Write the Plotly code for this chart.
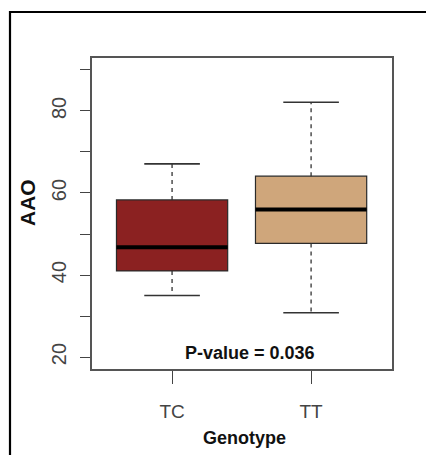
import plotly.graph_objects as go

# ---- data ----
genotypes = ["TC", "TT"]
positions = [1, 2]
lower_whisker = [35.0, 30.8]
q1 = [41.0, 47.7]
median = [46.8, 56.0]
q3 = [58.3, 64.1]
upper_whisker = [67.1, 82.1]
box_colors = ["#8B2121", "#CFA67B"]
y_tick_vals = [20, 30, 40, 50, 60, 70, 80, 90]
y_tick_text = ["20", "", "40", "", "60", "", "80", ""]
p_value_text = "P-value = 0.036"

BOX_W = 0.8
CAP_HALF = 0.2

REGULAR = "Liberation Sans, Arial, sans-serif"

fig = go.Figure()

for i, g in enumerate(genotypes):
    x = positions[i]
    # box body (whiskers drawn separately, dashed like R)
    fig.add_trace(go.Box(
        x=[x], q1=[q1[i]], median=[median[i]], q3=[q3[i]],
        lowerfence=[q1[i]], upperfence=[q3[i]],
        width=BOX_W, whiskerwidth=0,
        fillcolor=box_colors[i],
        line=dict(color="#2a2a2a", width=1.2),
        boxpoints=False, showlegend=False, hoverinfo="skip",
    ))
    # dashed whiskers
    fig.add_trace(go.Scatter(
        x=[x, x], y=[q3[i], upper_whisker[i]], mode="lines",
        line=dict(color="#333333", width=1.3, dash="4px,4px"),
        showlegend=False, hoverinfo="skip"))
    fig.add_trace(go.Scatter(
        x=[x, x], y=[q1[i], lower_whisker[i]], mode="lines",
        line=dict(color="#333333", width=1.3, dash="4px,4px"),
        showlegend=False, hoverinfo="skip"))
    # caps
    for yv in (upper_whisker[i], lower_whisker[i]):
        fig.add_trace(go.Scatter(
            x=[x - CAP_HALF, x + CAP_HALF], y=[yv, yv], mode="lines",
            line=dict(color="#333333", width=1.6),
            showlegend=False, hoverinfo="skip"))
    # thick median
    fig.add_trace(go.Scatter(
        x=[x - BOX_W / 2, x + BOX_W / 2], y=[median[i], median[i]], mode="lines",
        line=dict(color="#000000", width=4),
        showlegend=False, hoverinfo="skip"))

W, H = 426, 455
L, R, T, B = 92, 34, 58, 86
pw, ph = W - L - R, H - T - B

def px_x(px):
    return (px - L) / pw

def px_y(py):
    return (H - B - py) / ph

fig.update_layout(
    width=W, height=H,
    margin=dict(l=L, r=R, t=T, b=B),
    paper_bgcolor="white", plot_bgcolor="white",
    font=dict(family=REGULAR, color="#333333"),
    xaxis=dict(
        range=[0.424, 2.582], tickvals=positions, ticktext=genotypes,
        showgrid=False, zeroline=False,
        showline=True, mirror=True, linecolor="#555555", linewidth=1.6,
        ticks="outside", ticklen=13, tickwidth=1.3, tickcolor="#444444",
        tickfont=dict(size=19, color="#444444"),
        ticklabelstandoff=11,
    ),
    yaxis=dict(
        range=[17.1, 92.9], tickvals=y_tick_vals, ticktext=y_tick_text,
        showgrid=False, zeroline=False,
        showline=True, mirror=True, linecolor="#555555", linewidth=1.6,
        ticks="outside", ticklen=10, tickwidth=1.3, tickcolor="#444444",
        tickfont=dict(size=20, color="#444444"), tickangle=-90,
        ticklabelstandoff=6,
    ),
    annotations=[
        dict(text="<b>" + p_value_text + "</b>", x=1.56, y=20.9,
             xref="x", yref="y", showarrow=False,
             xanchor="center", yanchor="middle",
             font=dict(size=18, color="#111111")),
        dict(text="<b>Genotype</b>", x=px_x(244), y=px_y(438),
             xref="paper", yref="paper", showarrow=False,
             xanchor="center", yanchor="middle",
             font=dict(size=18, color="#111111")),
        dict(text="<b>AAO</b>", x=px_x(27), y=px_y(203),
             xref="paper", yref="paper", showarrow=False, textangle=-90,
             xanchor="center", yanchor="middle",
             font=dict(size=21, color="#111111")),
    ],
    shapes=[
        dict(type="rect", xref="paper", yref="paper",
             x0=px_x(10), x1=px_x(440), y0=px_y(470), y1=px_y(12),
             line=dict(color="#000000", width=2.2), fillcolor="rgba(0,0,0,0)"),
    ],
)

fig.write_html("out.html", config={"displayModeBar": False},
               post_script="document.body.style.margin='0px';")
